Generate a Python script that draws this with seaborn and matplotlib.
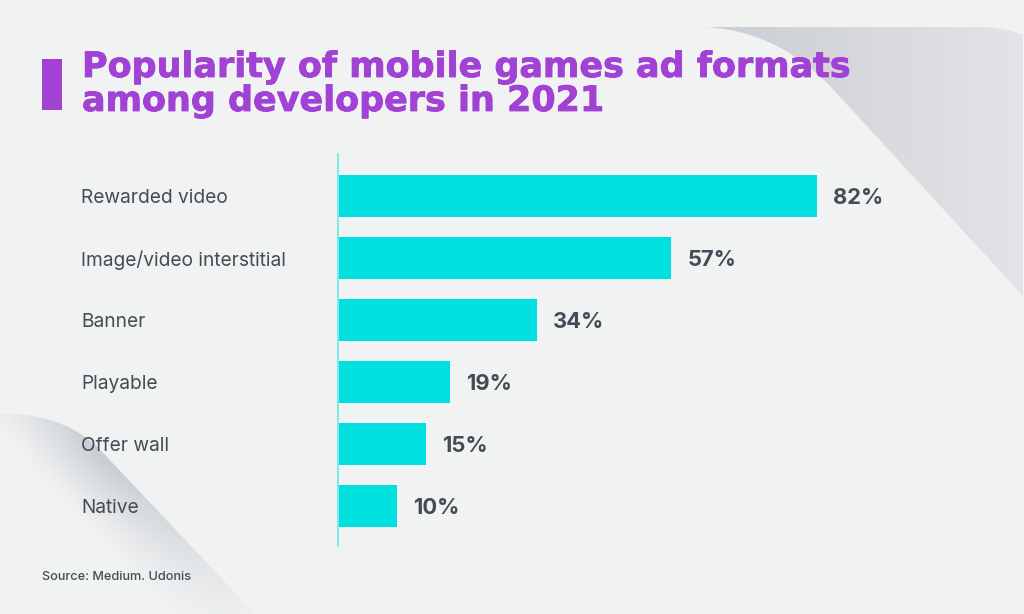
import numpy as np
import pandas as pd
import seaborn as sns
import matplotlib
matplotlib.use("Agg")
import matplotlib.pyplot as plt
import matplotlib.patheffects as pe
from matplotlib.path import Path
from matplotlib.patches import PathPatch, Rectangle

categories = ["Rewarded video", "Image/video interstitial", "Banner", "Playable", "Offer wall", "Native"]
values = [82, 57, 34, 19, 15, 10]
title_lines = ["Popularity of mobile games ad formats", "among developers in 2021"]
source = "Source: Medium. Udonis"

BG = "#F1F3F3"
PURPLE = "#A142D5"
CYAN = "#00E0E0"
DARK = "#434C55"
W, H = 1024, 614

sns.set_theme(style="white")
plt.rcParams["font.family"] = ["Inter", "DejaVu Sans"]

fig = plt.figure(figsize=(W / 100, H / 100), dpi=100, facecolor=BG)

# decoration layer in pixel coordinates
bg = fig.add_axes([0, 0, 1, 1])
bg.set_xlim(0, W); bg.set_ylim(H, 0); bg.axis("off")
yy, xx = np.mgrid[0:H, 0:W]
base = np.array(matplotlib.colors.to_rgb(BG))
dark = np.array(matplotlib.colors.to_rgb("#CBCED4"))

# top-right shape
tr = Path([(705, 27), (760, 30), (800, 55), (830, 86), (1023, 296), (1023, 35), (1010, 29), (985, 27), (705, 27)],
          [Path.MOVETO, Path.CURVE4, Path.CURVE4, Path.CURVE4, Path.LINETO, Path.LINETO, Path.CURVE3, Path.CURVE3, Path.CLOSEPOLY])
t = np.clip((xx - 720) / 303, 0, 1)[..., None]
img = dark * (1 - t) + np.array(matplotlib.colors.to_rgb("#E3E4E7")) * t
im = bg.imshow(img, extent=(0, W, H, 0), aspect="auto", zorder=1)
p = PathPatch(tr, fc="none", ec="none", transform=bg.transData); bg.add_patch(p); im.set_clip_path(p)

# bottom-left shape
bl = Path([(0, 414), (60, 412), (90, 438), (108, 458), (255, 614), (0, 614), (0, 414)],
          [Path.MOVETO, Path.CURVE4, Path.CURVE4, Path.CURVE4, Path.LINETO, Path.LINETO, Path.CLOSEPOLY])
d = -((xx - 108) * 0.73 - (yy - 458) * 0.68)
s = np.clip(1 - d / 62, 0, 1)
along = np.clip(1 - np.hypot(xx - 105, yy - 450) / 235, 0, 1)
a = (s * along * 1.15).clip(0, 1)[..., None]
img2 = dark * a + base * (1 - a)
im2 = bg.imshow(img2, extent=(0, W, H, 0), aspect="auto", zorder=1)
p2 = PathPatch(bl, fc="none", ec="none", transform=bg.transData); bg.add_patch(p2); im2.set_clip_path(p2)
bg.set_xlim(0, W); bg.set_ylim(H, 0)

bg.add_patch(Rectangle((42, 59), 20, 51, fc=PURPLE, ec="none", zorder=2))
for y, line in zip([77, 111], title_lines):
    bg.text(82, y, line, color=PURPLE, fontsize=25.15, fontweight="black",
            family=["DejaVu Sans"], va="baseline", ha="left", zorder=3,
            path_effects=[pe.withStroke(linewidth=0.6, foreground=PURPLE)])
bg.text(42, 577, source, color=DARK, fontsize=9.15, fontweight="medium", va="center", ha="left", zorder=3)

# chart
px_per_unit = 5.83
left, right = 339, 1024
top, bottom = 154, 546
ax = fig.add_axes([left / W, 1 - bottom / H, (right - left) / W, (bottom - top) / H])
ax.patch.set_alpha(0)
df = pd.DataFrame({"format": categories, "share": values})
sns.barplot(data=df, y="format", x="share", orient="h", color=CYAN, saturation=1, width=42 / 62, ax=ax,
            linewidth=0, edgecolor="none")
ax.set_xlim(0, (right - left) / px_per_unit)
ax.set_ylim(5 + 40 / 62, -42 / 62)
ax.set_xlabel(""); ax.set_ylabel("")
ax.set_xticks([])
sns.despine(ax=ax, left=False, bottom=True)
ax.spines["left"].set_color("#7FE9E9")
ax.spines["left"].set_linewidth(1.44)
ax.spines["left"].set_position(("outward", 0.72))
ax.tick_params(axis="y", length=0, pad=0)
ax.set_yticks(range(len(categories)))
ax.set_yticklabels(categories, color=DARK, fontsize=13.8, ha="left", fontweight="normal")
for lab in ax.get_yticklabels():
    lab.set_x(-(left - 82) / (right - left))
for i, v in enumerate(values):
    ax.annotate(f"{v}%", (v, i), xytext=(11.5, -1.2), textcoords="offset points", va="center", ha="left",
                color=DARK, fontsize=15.8, fontweight="bold")

fig.savefig("out.png", dpi=100, facecolor=BG)
